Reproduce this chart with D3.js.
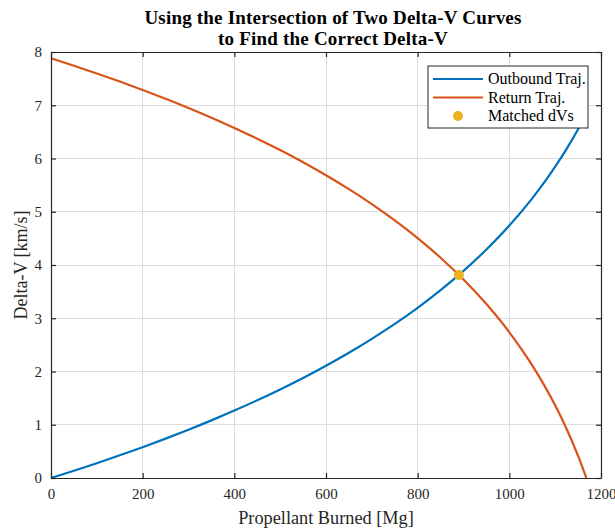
<!DOCTYPE html>
<html>
<head>
<meta charset="utf-8">
<script src="https://cdn.jsdelivr.net/npm/d3@7"></script>
<style>
  html, body { margin: 0; padding: 0; background: #fff; }
  svg { display: block; font-family: "Liberation Serif", "Times New Roman", serif; }
</style>
</head>
<body>
<svg id="chart" width="615" height="531"></svg>
<script>
// Propellant burned [Mg] sample points
const propellant = [0, 50, 100, 150, 200, 250, 300, 350, 400, 450, 500, 550, 600, 650, 700,
  750, 800, 850, 900, 950, 1000, 1050, 1075, 1100, 1125, 1150, 1160, 1168];
// Outbound trajectory delta-V [km/s]
const outboundDV = [0, 0.137, 0.278, 0.426, 0.579, 0.740, 0.907, 1.082, 1.266, 1.459, 1.663,
  1.879, 2.108, 2.351, 2.612, 2.893, 3.196, 3.527, 3.889, 4.291, 4.740, 5.252, 5.537, 5.846,
  6.182, 6.551, 6.710, 6.842];
// Return trajectory delta-V [km/s]
const returnDV = [7.882, 7.742, 7.597, 7.445, 7.287, 7.122, 6.949, 6.767, 6.575, 6.372, 6.158,
  5.930, 5.686, 5.425, 5.144, 4.838, 4.505, 4.137, 3.728, 3.266, 2.736, 2.115, 1.759, 1.364,
  0.920, 0.414, 0.190, 0];
// Intersection of the two curves
const matched = [{ p: 890, dv: 3.81 }];

const xTicks = [0, 200, 400, 600, 800, 1000, 1200];
const yTicks = [0, 1, 2, 3, 4, 5, 6, 7, 8];

const titleLines = ["Using the Intersection of Two Delta-V Curves", "to Find the Correct Delta-V"];
const xLabel = "Propellant Burned [Mg]";
const yLabel = "Delta-V [km/s]";
const legendNames = ["Outbound Traj.", "Return Traj.", "Matched dVs"];

const colors = { outbound: "#0072BD", ret: "#D95319", marker: "#EDB120", axis: "#262626", grid: "#dcdcdc" };

const svg = d3.select("#chart");
const plot = { left: 51, right: 601, top: 52, bottom: 478 };

const x = d3.scaleLinear().domain([0, 1200]).range([plot.left, plot.right]);
const y = d3.scaleLinear().domain([0, 8]).range([plot.bottom, plot.top]);

// Grid
const grid = svg.append("g");
grid.selectAll(".gx").data(xTicks.slice(1, -1)).join("line")
  .attr("x1", d => x(d)).attr("x2", d => x(d))
  .attr("y1", plot.top).attr("y2", plot.bottom)
  .attr("stroke", colors.grid).attr("stroke-width", 1).attr("shape-rendering", "crispEdges");
grid.selectAll(".gy").data(yTicks.slice(1, -1)).join("line")
  .attr("x1", plot.left).attr("x2", plot.right)
  .attr("y1", d => y(d)).attr("y2", d => y(d))
  .attr("stroke", colors.grid).attr("stroke-width", 1).attr("shape-rendering", "crispEdges");

// Curves
const idx = d3.range(propellant.length);
const lineOut = d3.line().x(i => x(propellant[i])).y(i => y(outboundDV[i])).curve(d3.curveMonotoneX);
const lineRet = d3.line().x(i => x(propellant[i])).y(i => y(returnDV[i])).curve(d3.curveMonotoneX);

svg.append("path").attr("d", lineOut(idx)).attr("fill", "none")
  .attr("stroke", colors.outbound).attr("stroke-width", 2.2);
svg.append("path").attr("d", lineRet(idx)).attr("fill", "none")
  .attr("stroke", colors.ret).attr("stroke-width", 2.2);

svg.selectAll(".pt").data(matched).join("circle")
  .attr("cx", d => x(d.p)).attr("cy", d => y(d.dv)).attr("r", 5)
  .attr("fill", colors.marker);

// Axes (box with inward ticks on all sides)
const tickLen = 5;
const axBottom = d3.axisBottom(x).tickValues(xTicks).tickFormat(d3.format("d"))
  .tickSizeInner(-tickLen).tickSizeOuter(0).tickPadding(10);
const axLeft = d3.axisLeft(y).tickValues(yTicks).tickFormat(d3.format("d"))
  .tickSizeInner(-tickLen).tickSizeOuter(0).tickPadding(9);
const axTop = d3.axisTop(x).tickValues(xTicks).tickSizeInner(-tickLen).tickSizeOuter(0).tickFormat("");
const axRight = d3.axisRight(y).tickValues(yTicks).tickSizeInner(-tickLen).tickSizeOuter(0).tickFormat("");

function style(g) {
  g.selectAll("path").attr("stroke", colors.axis).attr("stroke-width", 1.2);
  g.selectAll("line").attr("stroke", colors.axis).attr("stroke-width", 1.2);
  g.selectAll("text").attr("fill", colors.axis)
    .style("font-family", "'Liberation Serif', 'Times New Roman', serif").style("font-size", "15px");
}
svg.append("g").attr("transform", `translate(0,${plot.bottom})`).call(axBottom).call(style);
svg.append("g").attr("transform", `translate(${plot.left},0)`).call(axLeft).call(style);
svg.append("g").attr("transform", `translate(0,${plot.top})`).call(axTop).call(style);
svg.append("g").attr("transform", `translate(${plot.right},0)`).call(axRight).call(style);

// Title
const title = svg.append("text").attr("text-anchor", "middle")
  .attr("fill", "#000").style("font-weight", "bold").style("font-size", "19px")
  .style("letter-spacing", "0.2px");
titleLines.forEach((t, i) => {
  title.append("tspan").attr("x", (plot.left + plot.right) / 2 + 7).attr("y", 24 + i * 21).text(t);
});

// Axis labels
svg.append("text").attr("x", (plot.left + plot.right) / 2).attr("y", 524)
  .attr("text-anchor", "middle").attr("fill", colors.axis).style("font-size", "18.3px").text(xLabel);
svg.append("text").attr("transform", `translate(27,${(plot.top + plot.bottom) / 2}) rotate(-90)`)
  .attr("text-anchor", "middle").attr("fill", colors.axis).style("font-size", "18px").text(yLabel);

// Legend
const lg = svg.append("g").attr("transform", "translate(428,66)");
lg.append("rect").attr("width", 160).attr("height", 62).attr("fill", "#fff")
  .attr("stroke", colors.axis).attr("stroke-width", 1);
const entries = [
  { name: legendNames[0], type: "line", color: colors.outbound },
  { name: legendNames[1], type: "line", color: colors.ret },
  { name: legendNames[2], type: "dot", color: colors.marker }
];
entries.forEach((e, i) => {
  const cy = 13 + i * 18.5;
  if (e.type === "line") {
    lg.append("line").attr("x1", 5).attr("x2", 55).attr("y1", cy).attr("y2", cy)
      .attr("stroke", e.color).attr("stroke-width", 2.2);
  } else {
    lg.append("circle").attr("cx", 30).attr("cy", cy).attr("r", 5).attr("fill", e.color);
  }
  lg.append("text").attr("x", 60).attr("y", cy + 5).attr("fill", "#000")
    .style("font-size", "16px").text(e.name);
});
</script>
</body>
</html>
